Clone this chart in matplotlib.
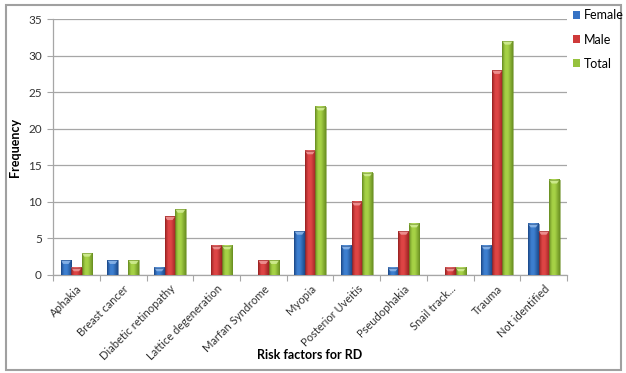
import numpy as np
import matplotlib
matplotlib.use("Agg")
import matplotlib.pyplot as plt
from matplotlib.colors import LinearSegmentedColormap
from matplotlib.patches import Rectangle, Polygon

plt.rcParams['font.family'] = ['Lato', 'DejaVu Sans']

categories = ["Aphakia", "Breast cancer", "Diabetic retinopathy", "Lattice degeneration",
              "Marfan Syndrome", "Myopia", "Posterior Uveitis", "Pseudophakia",
              "Snail track...", "Trauma", "Not identified"]
female = [2, 2, 1, 0, 0, 6, 4, 1, 0, 4, 7]
male = [1, 0, 8, 4, 2, 17, 10, 6, 1, 28, 6]
total = [3, 2, 9, 4, 2, 23, 14, 7, 1, 32, 13]
series_names = ["Female", "Male", "Total"]
y_ticks = [0, 5, 10, 15, 20, 25, 30, 35]

# (edge, highlight, cap) shades for each series
palette = [
    ("#1c4a8a", "#3d7fd0", "#8fb8ea"),
    ("#9a2222", "#de4545", "#f09a9a"),
    ("#6a8f22", "#a6d246", "#d4ee98"),
]
legend_colors = ["#3572c4", "#cf3a3a", "#96c23e"]

fig = plt.figure(figsize=(6.26, 3.73), dpi=100)
ax = fig.add_axes([0.0847, 0.263, 0.8213, 0.686])

n = len(categories)
x = np.arange(n)
bw = 0.225
offsets = [-bw, 0, bw]
cap_h = 0.5

grad = np.linspace(0, 1, 64).reshape(1, -1)
for s, vals in enumerate([female, male, total]):
    edge, hi, cap = palette[s]
    cmap = LinearSegmentedColormap.from_list(
        f"bar{s}", [(0, edge), (0.3, hi), (0.55, hi), (1, edge)])
    for i, v in enumerate(vals):
        if v <= 0:
            continue
        x0 = x[i] + offsets[s] - bw / 2
        x1 = x0 + bw
        ax.imshow(grad, cmap=cmap, aspect='auto', extent=(x0, x1, 0, v),
                  interpolation='bicubic', zorder=3)
        # lighter bevel at the bar top
        ch = min(cap_h, v * 0.6)
        ax.add_patch(Polygon([(x0, v), (x1, v), (x1 - bw * 0.25, v - ch),
                              (x0 + bw * 0.25, v - ch)],
                             closed=True, facecolor=cap, edgecolor='none',
                             alpha=0.85, zorder=4))
        ax.add_patch(Rectangle((x0, 0), bw, v, fill=False, edgecolor=edge,
                               linewidth=0.4, zorder=4))

ax.set_xlim(-0.5, n - 0.5)
ax.set_ylim(0, 35)
ax.set_yticks(y_ticks)
ax.set_yticklabels([str(t) for t in y_ticks], fontsize=8.5, color="#333333")
ax.yaxis.grid(True, color="#a6a6a6", linewidth=0.9, zorder=0)
ax.set_axisbelow(True)

ax.set_xticks(np.arange(n + 1) - 0.5, minor=False)
ax.set_xticklabels([])
ax.set_xticks(x, minor=True)
ax.set_xticklabels(categories, minor=True, rotation=45, ha='right', va='top',
                   rotation_mode='anchor', fontsize=8, color="#333333")
ax.tick_params(axis='x', which='minor', length=0, pad=6)
ax.tick_params(axis='x', which='major', length=4, color="#a6a6a6", direction='out')
ax.tick_params(axis='y', length=4, color="#a6a6a6", direction='out', pad=4)

for side in ['top', 'right']:
    ax.spines[side].set_visible(False)
for side in ['left', 'bottom']:
    ax.spines[side].set_color("#a6a6a6")
    ax.spines[side].set_linewidth(0.9)

ax.set_ylabel("Frequency", fontsize=9, fontweight='bold')
ax.yaxis.set_label_coords(-0.062, 0.5)
ax.set_xlabel("Risk factors for RD", fontsize=9, fontweight='bold')
ax.xaxis.set_label_coords(0.5, -0.29)

handles = [Rectangle((0, 0), 1, 1, facecolor=c, edgecolor='none') for c in legend_colors]
fig.legend(handles, series_names, loc='upper left', bbox_to_anchor=(0.915, 0.975),
           frameon=False, fontsize=9, handlelength=0.6, handleheight=0.6,
           handletextpad=0.3, labelspacing=0.98, borderaxespad=0, borderpad=0)

fig.patches.append(Rectangle((0.0096, 0.008), 0.982, 0.979, transform=fig.transFigure,
                             fill=False, edgecolor="#a0a0a0", linewidth=1.5))

fig.savefig("out.png", dpi=100)
